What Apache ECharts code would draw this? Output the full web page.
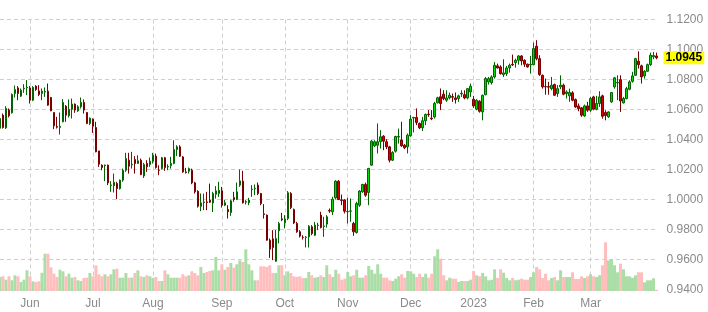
<!DOCTYPE html>
<html><head><meta charset="utf-8">
<script src="https://cdn.jsdelivr.net/npm/echarts@6/dist/echarts.min.js"></script>
<style>html,body{margin:0;padding:0;background:#fff}#c{width:708px;height:312px}</style>
</head><body><div id="c"></div>
<script>
// Month blocks of trading days shown on the chart (first block is the tail of May)
const months = ['May','Jun','Jul','Aug','Sep','Oct','Nov','Dec','Jan','Feb','Mar'];
const monthBarCounts = [10,21,20,23,21,21,21,21,20,19,23];
const monthTickLabels = {Jun:'Jun',Jul:'Jul',Aug:'Aug',Sep:'Sep',Oct:'Oct',Nov:'Nov',Dec:'Dec',Jan:'2023',Feb:'Feb',Mar:'Mar'};

const opens = [1.0475,1.0562,1.0478,1.0596,1.0578,1.0707,1.0744,1.0689,1.0738,1.0745,
1.0744,1.0662,1.0756,1.0724,1.0707,1.0716,1.0722,1.0680,1.0580,1.0486,1.0480,1.0518,1.0622,1.0558,1.0602,1.0636,1.0591,1.0618,1.0647,1.0580,1.0507,
1.0536,1.0480,1.0324,1.0228,1.0225,1.0229,1.0093,1.0091,1.0107,1.0073,1.0129,1.0195,1.0262,1.0231,1.0266,1.0240,1.0262,1.0157,1.0240,1.0233,
1.0255,1.0289,1.0197,1.0206,1.0278,1.0217,1.0226,1.0240,1.0333,1.0351,1.0284,1.0184,1.0189,1.0195,1.0111,1.0055,0.9955,0.9980,0.9984,0.9995,0.9977,1.0035,1.0040,
1.0058,0.9962,0.9933,0.9913,1.0013,1.0000,1.0096,1.0122,0.9982,0.9978,1.0066,1.0071,1.0096,1.0040,0.9905,0.9896,0.9729,0.9738,0.9589,0.9791,0.9871,
0.9845,0.9873,1.0040,0.9933,0.9840,0.9785,0.9749,0.9747,0.9751,0.9818,0.9762,0.9827,0.9896,0.9820,0.9836,0.9927,0.9918,1.0011,1.0122,0.9998,0.9996,
0.9918,0.9922,0.9840,0.9780,0.9962,1.0051,1.0100,1.0047,1.0229,1.0358,1.0362,1.0385,1.0422,1.0385,1.0351,1.0262,1.0322,1.0416,1.0396,1.0362,1.0351,
1.0425,1.0543,1.0547,1.0507,1.0478,1.0525,1.0569,1.0542,1.0551,1.0645,1.0685,1.0702,1.0662,1.0677,1.0686,1.0677,1.0673,1.0704,1.0699,1.0677,1.0717,
1.0668,1.0602,1.0655,1.0584,1.0699,1.0784,1.0779,1.0817,1.0891,1.0884,1.0833,1.0839,1.0877,1.0901,1.0913,1.0928,1.0957,1.0928,1.0902,1.0897,
1.0899,1.1022,1.0939,1.0828,1.0753,1.0753,1.0739,1.0766,1.0706,1.0751,1.0762,1.0706,1.0691,1.0711,1.0666,1.0624,1.0611,1.0557,1.0624,
1.0595,1.0684,1.0602,1.0640,1.0691,1.0580,1.0551,1.0651,1.0751,1.0777,1.0799,1.0644,1.0673,1.0735,1.0788,1.0828,1.0922,1.0891,1.0824,1.0855,1.0899,1.0951,1.0957];
const closes = [1.0540,1.0480,1.0607,1.0558,1.0700,1.0733,1.0707,1.0729,1.0742,1.0749,
1.0662,1.0747,1.0733,1.0700,1.0722,1.0720,1.0629,1.0591,1.0491,1.0482,1.0488,1.0647,1.0562,1.0602,1.0636,1.0596,1.0618,1.0647,1.0596,1.0507,1.0542,
1.0489,1.0318,1.0235,1.0213,1.0229,1.0111,1.0097,1.0115,1.0073,1.0129,1.0195,1.0273,1.0222,1.0235,1.0240,1.0258,1.0166,1.0233,1.0218,1.0255,
1.0295,1.0213,1.0195,1.0278,1.0213,1.0220,1.0240,1.0333,1.0351,1.0289,1.0184,1.0180,1.0206,1.0111,1.0051,0.9955,0.9977,0.9984,0.9980,0.9982,1.0040,1.0058,1.0062,
0.9962,0.9978,0.9918,0.9991,1.0000,1.0051,1.0124,0.9978,0.9986,0.9996,1.0069,1.0075,1.0040,0.9973,0.9900,0.9729,0.9669,0.9680,0.9740,0.9840,0.9865,
0.9869,1.0045,0.9947,0.9844,0.9785,0.9756,0.9747,0.9749,0.9822,0.9773,0.9829,0.9829,0.9813,0.9824,0.9885,0.9923,1.0002,1.0122,1.0000,0.9994,0.9922,
0.9920,0.9924,0.9785,0.9973,1.0056,1.0100,1.0029,1.0207,1.0389,1.0385,1.0385,1.0418,1.0389,1.0351,1.0262,1.0313,1.0420,1.0420,1.0358,1.0345,1.0429,
1.0536,1.0547,1.0513,1.0478,1.0525,1.0567,1.0565,1.0538,1.0640,1.0678,1.0640,1.0673,1.0677,1.0695,1.0682,1.0666,1.0691,1.0708,1.0677,1.0739,1.0755,
1.0624,1.0662,1.0588,1.0695,1.0806,1.0806,1.0817,1.0895,1.0877,1.0839,1.0844,1.0877,1.0895,1.0897,1.0928,1.0957,1.0924,1.0902,1.0884,1.0901,
1.1006,1.0939,1.0833,1.0751,1.0751,1.0749,1.0762,1.0695,1.0739,1.0762,1.0702,1.0717,1.0713,1.0662,1.0617,1.0606,1.0562,1.0624,1.0595,
1.0673,1.0602,1.0640,1.0684,1.0555,1.0560,1.0584,1.0713,1.0811,1.0780,1.0657,1.0673,1.0739,1.0784,1.0824,1.0939,1.0899,1.0817,1.0855,1.0899,1.0962,1.0960,1.0945];
const lows = [1.0451,1.0473,1.0470,1.0547,1.0573,1.0680,1.0662,1.0684,1.0711,1.0696,
1.0640,1.0656,1.0724,1.0689,1.0662,1.0684,1.0625,1.0589,1.0469,1.0473,1.0433,1.0515,1.0518,1.0547,1.0540,1.0578,1.0584,1.0607,1.0573,1.0502,1.0496,
1.0444,1.0315,1.0217,1.0195,1.0122,1.0096,1.0051,1.0047,1.0002,1.0066,1.0118,1.0184,1.0173,1.0206,1.0173,1.0240,1.0162,1.0144,1.0184,1.0218,
1.0240,1.0206,1.0162,1.0200,1.0191,1.0195,1.0206,1.0235,1.0289,1.0284,1.0178,1.0173,1.0173,1.0102,1.0040,0.9946,0.9922,0.9929,0.9929,0.9977,0.9917,1.0006,1.0017,
0.9946,0.9956,0.9873,0.9891,0.9985,0.9996,1.0084,0.9973,0.9967,0.9962,1.0018,1.0029,1.0029,0.9962,0.9873,0.9725,0.9611,0.9596,0.9585,0.9707,0.9856,
0.9807,0.9862,0.9936,0.9836,0.9778,0.9747,0.9733,0.9680,0.9680,0.9762,0.9756,0.9796,0.9807,0.9751,0.9813,0.9911,0.9896,1.0000,0.9996,0.9962,0.9907,
0.9840,0.9851,0.9758,0.9773,0.9951,1.0045,1.0018,0.9962,1.0225,1.0350,1.0307,1.0340,1.0329,1.0336,1.0247,1.0256,1.0313,1.0373,1.0351,1.0336,1.0307,
1.0418,1.0447,1.0496,1.0469,1.0456,1.0496,1.0551,1.0529,1.0540,1.0640,1.0596,1.0662,1.0651,1.0668,1.0651,1.0640,1.0651,1.0684,1.0668,1.0668,1.0684,
1.0611,1.0595,1.0579,1.0528,1.0695,1.0766,1.0766,1.0806,1.0873,1.0833,1.0817,1.0824,1.0846,1.0891,1.0879,1.0899,1.0895,1.0884,1.0879,1.0839,
1.0895,1.0928,1.0824,1.0739,1.0699,1.0699,1.0728,1.0691,1.0684,1.0735,1.0695,1.0673,1.0651,1.0655,1.0611,1.0588,1.0551,1.0551,1.0584,
1.0584,1.0595,1.0595,1.0617,1.0539,1.0528,1.0544,1.0644,1.0739,1.0662,1.0584,1.0640,1.0668,1.0728,1.0779,1.0824,1.0873,1.0773,1.0806,1.0851,1.0891,1.0935,1.0935];
const highs = [1.0567,1.0573,1.0622,1.0607,1.0707,1.0760,1.0756,1.0740,1.0769,1.0796,
1.0756,1.0756,1.0762,1.0762,1.0740,1.0747,1.0773,1.0684,1.0580,1.0551,1.0580,1.0669,1.0629,1.0667,1.0673,1.0640,1.0629,1.0680,1.0667,1.0584,1.0547,
1.0540,1.0518,1.0324,1.0235,1.0233,1.0233,1.0122,1.0173,1.0118,1.0133,1.0206,1.0311,1.0311,1.0318,1.0289,1.0295,1.0273,1.0244,1.0262,1.0280,
1.0311,1.0306,1.0228,1.0284,1.0284,1.0235,1.0284,1.0395,1.0362,1.0362,1.0289,1.0211,1.0213,1.0206,1.0118,1.0062,1.0040,1.0040,1.0051,1.0106,1.0051,1.0089,1.0118,
1.0084,0.9996,0.9962,1.0000,1.0051,1.0113,1.0200,1.0191,0.9996,1.0011,1.0096,1.0100,1.0113,1.0044,0.9969,0.9900,0.9740,0.9796,0.9796,0.9851,0.9911,
0.9896,1.0056,1.0049,0.9940,0.9851,0.9796,0.9762,0.9756,0.9829,0.9829,0.9851,0.9845,0.9918,0.9885,0.9896,0.9940,1.0018,1.0129,1.0129,1.0033,1.0002,
1.0011,1.0007,0.9851,0.9985,1.0062,1.0105,1.0113,1.0211,1.0396,1.0395,1.0507,1.0462,1.0429,1.0402,1.0358,1.0322,1.0425,1.0473,1.0518,1.0369,1.0440,
1.0562,1.0551,1.0607,1.0513,1.0551,1.0573,1.0596,1.0596,1.0651,1.0685,1.0740,1.0729,1.0728,1.0713,1.0706,1.0713,1.0699,1.0728,1.0728,1.0742,1.0773,
1.0691,1.0668,1.0662,1.0699,1.0817,1.0817,1.0828,1.0917,1.0906,1.0895,1.0935,1.0891,1.0906,1.0966,1.0939,1.0962,1.0962,1.0935,1.0906,1.0957,
1.1046,1.1062,1.0962,1.0833,1.0806,1.0784,1.0817,1.0773,1.0762,1.0828,1.0773,1.0728,1.0739,1.0722,1.0673,1.0640,1.0617,1.0633,1.0651,
1.0684,1.0691,1.0691,1.0722,1.0699,1.0595,1.0588,1.0717,1.0817,1.0828,1.0828,1.0684,1.0751,1.0795,1.0851,1.0944,1.0988,1.0899,1.0862,1.0906,1.0979,1.0984,1.0979];
const volumes = [14,14.7,11.3,14.7,10.7,15.7,14.7,9,11.3,20.7,
14.7,9.7,9,9.7,18.3,37.3,37.3,23.7,17.3,14,21.3,19.7,14.7,17.3,13.3,14,10.7,10,13,13.3,18,
14.7,25.7,16.7,14.7,16.7,14.7,16.7,21.7,22.3,13.3,13.3,18,13.3,13.3,18,20.7,14.7,14,15.7,14.7,
13,14,10,10,20.7,16.7,13.3,13.3,13.3,13.3,16.7,14.7,15.7,19.7,18,15.7,24,18,19,20,20.7,34,20.7,
26.7,21.3,24,28,23.3,26.7,30.7,29,41.7,26.7,20.7,10.7,10.7,24.7,24.7,24,25.7,18,18,25.7,25.7,
15.7,19.7,18,14.7,14,14.7,13,13,19,15.7,13.3,14,15.7,14,25.7,16.7,14,21.3,17.3,11.3,12.3,
19,14.7,15.7,21.3,13.3,13.3,15.7,25,21.3,17.3,26.7,17.3,13.3,13.3,10.7,10,12.3,14.7,16.7,13.3,20,
19.7,17.3,14,17.3,14,17.3,13.3,17.3,34.7,41.7,32.3,15.7,10.7,13.3,12.3,12.3,9,10,10,10,11.3,
20,15.7,14.7,18,14.7,10.7,11.3,21.7,13,21.7,18.3,13,10.7,13,10.7,11.3,12.3,11.3,11.3,14,
18.7,24,21.7,13,17.3,10.7,13,14,10.7,20.7,14,14,14,18.7,12,12,14.7,13,14.7,
16.7,14.7,14,15.7,25.7,48.7,30.7,32,25.7,18.7,27.3,21.7,14.7,14.7,13.3,15.7,18.7,18.7,8.7,10.7,10.7,12.7,1.3];

const priceMin = 0.94, priceMax = 1.12, priceStep = 0.02;

// build categories "Mon k"
const categories = [];
months.forEach((m, mi) => { for (let k = 1; k <= monthBarCounts[mi]; k++) categories.push(m + ' ' + k); });
const isMonthStart = (idx, val) => { const p = String(val).split(' '); return p[1] === '1' && monthTickLabels[p[0]] !== undefined; };

const lastPrice = closes[closes.length - 1];
const upFill = '#00d800', upLine = '#006400', dnFill = '#d80000', dnLine = '#780000';
const volUp = '#abdea7', volDn = '#ffbdbd';
const gridLine = { show: true, lineStyle: { color: '#cfcfcf', type: [4, 3], width: 1 } };
const font = 'Arial, "Liberation Sans", sans-serif';

const chart = echarts.init(document.getElementById('c'), null, { renderer: 'canvas' });
chart.setOption({
  animation: false,
  backgroundColor: '#ffffff',
  grid: [
    { left: -0.5, width: 657, top: 19.5, height: 270 },
    { left: -0.5, width: 657, top: 191, height: 100 }
  ],
  xAxis: [
    { type: 'category', gridIndex: 0, data: categories, boundaryGap: false,
      axisLine: { show: false }, axisTick: { show: false },
      axisLabel: { interval: isMonthStart, formatter: v => monthTickLabels[String(v).split(' ')[0]] || '',
        color: '#8a8a8a', fontSize: 12, fontFamily: font, margin: 8 },
      splitLine: Object.assign({ interval: isMonthStart }, gridLine) },
    { type: 'category', gridIndex: 1, data: categories, boundaryGap: false, show: false }
  ],
  yAxis: [
    { type: 'value', gridIndex: 0, position: 'right', min: priceMin, max: priceMax, interval: priceStep,
      axisLine: { show: false }, axisTick: { show: false },
      axisLabel: { formatter: v => v.toFixed(4), color: '#8a8a8a', fontSize: 12, fontFamily: font, margin: 10 },
      splitLine: gridLine },
    { type: 'value', gridIndex: 1, min: 0, max: 100, show: false, splitLine: { show: false } }
  ],
  series: [
    { type: 'bar', xAxisIndex: 1, yAxisIndex: 1, barWidth: 3, z: 1,
      data: volumes.map((v, i) => ({ value: v, itemStyle: { color: closes[i] >= opens[i] ? volUp : volDn } })) },
    { type: 'candlestick', xAxisIndex: 0, yAxisIndex: 0, barWidth: 2, z: 3,
      data: opens.map((o, i) => [o, closes[i], lows[i], highs[i]]),
      itemStyle: { color: upFill, color0: dnFill, borderColor: upLine, borderColor0: dnLine, borderWidth: 1 },
      markLine: { symbol: 'none', silent: true, animation: false, precision: 4,
        lineStyle: { color: 'rgba(0,0,0,0)', width: 0 },
        label: { position: 'end', distance: 7, formatter: p => Number(p.value).toFixed(4),
          backgroundColor: '#ffff00', color: '#000', fontWeight: 'bold', fontSize: 12, fontFamily: font, padding: [1, 2, 0, 2] },
        data: [{ yAxis: lastPrice }] } }
  ]
});
</script></body></html>
